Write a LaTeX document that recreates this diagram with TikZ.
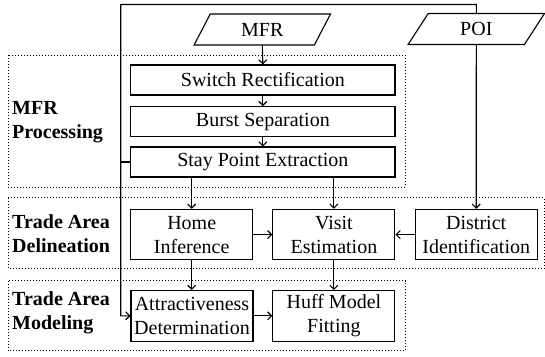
\documentclass[tikz,border=0pt]{standalone}
\usepackage{fontspec}
\setmainfont{Liberation Serif}
\usetikzlibrary{arrows.meta,shapes.geometric}
\tikzset{
  proc/.style={draw,line width=1.1pt,minimum width=122pt,minimum height=50.5pt,inner sep=0pt,align=center,font=\fontsize{20}{24}\selectfont},
  wide/.style={draw,line width=1.1pt,minimum width=264.3pt,minimum height=30pt,inner sep=0pt,font=\fontsize{20}{24}\selectfont},
  datain/.style={draw,line width=1.1pt,trapezium,trapezium left angle=63.4,trapezium right angle=116.6,trapezium stretches=true,minimum width=137pt,minimum height=31pt,inner sep=0pt,font=\fontsize{20}{24}\selectfont},
  grp/.style={draw,dotted,line width=1pt},
  grplabel/.style={anchor=west,align=left,inner sep=0pt,font=\fontsize{20}{24}\selectfont\bfseries},
  conn/.style={line width=1.1pt,-{Straight Barb[length=4pt,width=8pt,line width=1.1pt]}},
  plain/.style={line width=1.1pt}
}
\begin{document}
\begin{tikzpicture}[x=1pt,y=-1pt]
\useasboundingbox (0,0) rectangle (545,356);
% groups
\draw[grp] (8.3,55) rectangle (405,187.3);
\draw[grp] (8.3,197.7) rectangle (544,268.3);
\draw[grp] (8.3,280.7) rectangle (405.7,350.7);
\node[grplabel] (lproc) at (12,122) {MFR\\Processing};
\node[grplabel] (ldelin) at (12,234) {Trade Area\\Delineation};
\node[grplabel] (lmodel) at (12,313) {Trade Area\\Modeling};
% inputs
\node[datain] (mfr) at (262.3,29.5) {MFR};
\node[datain] (poi) at (476.3,29) {POI};
% processing
\node[wide] (switch) at (262.85,80) {Switch Rectification};
\node[wide] (burst) at (262.85,121.7) {Burst Separation};
\node[wide] (stay) at (262.85,162) {Stay Point Extraction};
% delineation
\node[proc] (home) at (191.7,234.6) {Home\\Inference};
\node[proc] (visit) at (333.9,234.6) {Visit\\Estimation};
\node[proc] (district) at (476.2,234.6) {District\\Identification};
% modeling
\node[proc] (attr) at (192,315.8) {Attractiveness\\Determination};
\node[proc] (huff) at (333.9,315.8) {Huff Model\\Fitting};
% connectors
\coordinate (topright) at (476.3,4.5);
\coordinate (topleft) at (120.7,4.5);
\draw[conn] (mfr.south) -- (switch.north);
\draw[conn] (switch.south) -- (burst.north);
\draw[conn] (burst.south) -- (stay.north);
\draw[conn] (stay.south -| home.north) -- (home.north);
\draw[conn] (stay.south -| visit.north) -- (visit.north);
\draw[conn] (poi.south) -- (district.north);
\draw[conn] (home.east) -- (visit.west);
\draw[conn] (district.west) -- (visit.east);
\draw[conn] (home.south) -- (attr.north -| home.south);
\draw[conn] (visit.south) -- (huff.north);
\draw[conn] (attr.east) -- (huff.west);
\draw[conn] (poi.north) -- (topright) -- (topleft) |- (attr.west);
\draw[plain] (stay.west) -- (stay.west -| topleft);
\end{tikzpicture}
\end{document}
